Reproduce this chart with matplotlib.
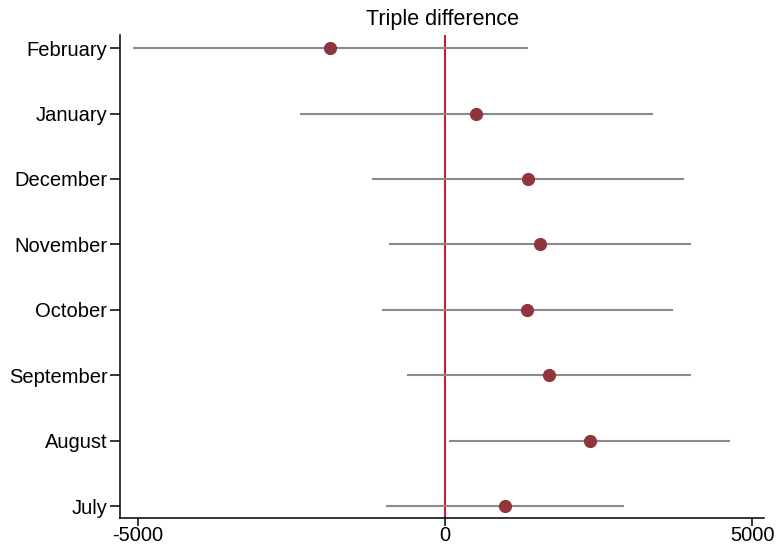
import matplotlib
matplotlib.use("Agg")
import matplotlib.pyplot as plt
import numpy as np

plt.rcParams['font.family'] = ['Liberation Sans', 'DejaVu Sans']

# months from bottom to top
months = ["July", "August", "September", "October", "November",
          "December", "January", "February"]
coef = [977, 2362, 1694, 1336, 1547, 1352, 505, -1873]
ci_low = [-961, 65, -619, -1026, -912, -1189, -2362, -5081]
ci_high = [2915, 4642, 4007, 3713, 4007, 3893, 3388, 1352]

x_ticks = [-5000, 0, 5000]

W, H = 776, 547
fig = plt.figure(figsize=(W / 100, H / 100), dpi=100)
ax = fig.add_axes([120 / W, 1 - 518 / H, (764 - 120) / W, (518 - 35) / H])

ypos = np.arange(1, len(months) + 1)

ax.hlines(ypos, ci_low, ci_high, color='#8a8a8a', linewidth=1.5, zorder=2)
ax.axvline(0, color='#c41e3a', linewidth=1.5, zorder=1)
ax.plot(coef, ypos, 'o', color='#90353b', markersize=8.5, zorder=3)

ax.set_xlim(-5293, 5195)
ax.set_ylim(0.82, 8.2)
ax.set_xticks(x_ticks)
ax.set_xticklabels([str(t) for t in x_ticks])
ax.set_yticks(ypos)
ax.set_yticklabels(months)

for s in ['top', 'right']:
    ax.spines[s].set_visible(False)
for s in ['left', 'bottom']:
    ax.spines[s].set_linewidth(1.1)

ax.tick_params(axis='both', labelsize=14.5, length=7, width=1.1, direction='out')
ax.tick_params(axis='y', pad=2)
ax.tick_params(axis='x', pad=0, length=6)
ax.set_title("Triple difference", fontsize=15.5, pad=7)

fig.savefig("out.png", dpi=100, facecolor='white')
